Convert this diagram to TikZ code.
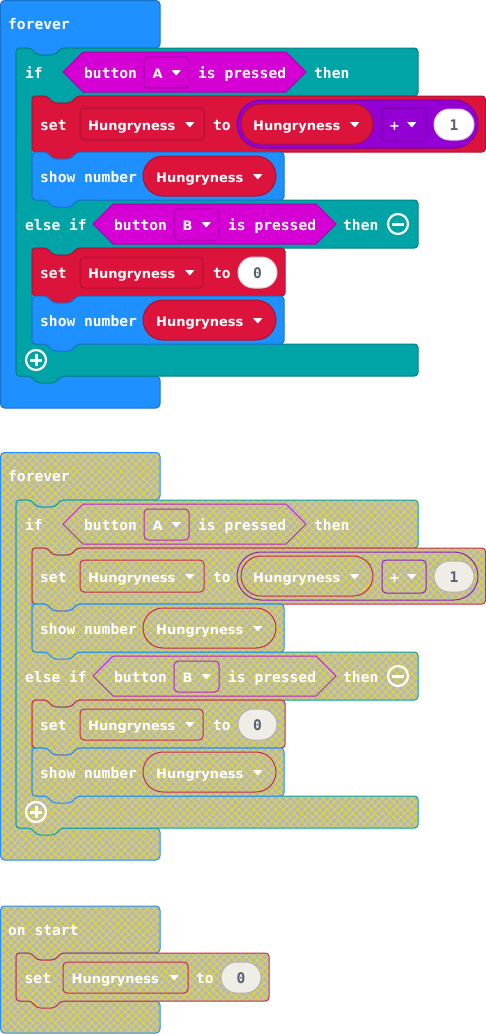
\documentclass[tikz,border=0pt]{standalone}
\usepackage{fontspec}
\usetikzlibrary{patterns.meta}

\newfontfamily\monofam{DejaVu Sans Mono}
\newfontfamily\varfam{DejaVu Sans}
\newcommand{\kwfont}{\monofam\bfseries\fontsize{14.6}{16}\selectfont}
\newcommand{\varfont}{\varfam\bfseries\fontsize{13}{15}\selectfont}

\definecolor{cBlue}{HTML}{1E90FF}
\definecolor{cBlueD}{HTML}{1873CC}
\definecolor{cTeal}{HTML}{00A4A6}
\definecolor{cTealD}{HTML}{008385}
\definecolor{cRed}{HTML}{DC143C}
\definecolor{cRedD}{HTML}{B01030}
\definecolor{cMag}{HTML}{D400D4}
\definecolor{cMagD}{HTML}{AA00AA}
\definecolor{cPur}{HTML}{9400D3}
\definecolor{cPurD}{HTML}{7600A9}
\definecolor{cNum}{HTML}{575E75}
\definecolor{cFieldD}{HTML}{D0D0D0}
\definecolor{dGray}{HTML}{B6B6B6}
\definecolor{dYel}{HTML}{DDD640}
\definecolor{dField}{HTML}{EFEDE5}

\tikzset{
  blue blk/.style={fill=cBlue, draw=cBlueD},
  teal blk/.style={fill=cTeal, draw=cTealD},
  red blk/.style={fill=cRed, draw=cRedD},
  mag blk/.style={fill=cMag, draw=cMagD},
  pur blk/.style={fill=cPur, draw=cPurD},
  field/.style={fill=white, draw=cFieldD},
  dis/.style={draw=#1,
    preaction={fill=dGray},
    preaction={pattern={Hatch[angle=45,distance=5.2pt,line width=1pt]}, pattern color=dYel}},
  kw/.style={font=\kwfont, text=white, anchor=base west, inner sep=0pt},
  var/.style={font=\varfont, text=white, anchor=base west, inner sep=0pt},
  num/.style={font=\kwfont, text=cNum, anchor=base, inner sep=0pt},
  icon/.style={circle, draw=white, line width=2.2pt, minimum size=20pt, inner sep=0pt},
}

% statement block: style, left, top, right, bottom (notch on top, tab below)
\newcommand{\stmt}[5]{%
  \draw[#1, line width=1pt, rounded corners=3.5pt]
    (#2,#3) -- ({#2+15},#3) -- ({#2+21},{#3+7}) -- ({#2+39},{#3+7}) -- ({#2+45},#3)
    -- (#4,#3) -- (#4,#5) -- ({#2+45},#5) -- ({#2+39},{#5+7}) -- ({#2+21},{#5+7})
    -- ({#2+15},#5) -- (#2,#5) -- cycle;}

% dropdown arrow, given its top left corner
\newcommand{\ddtri}[2]{%
  \fill[white, rounded corners=0.6pt] (#1,#2) -- ({#1+9.5},#2) -- ({#1+4.75},{#2+5.5}) -- cycle;}

% the forever loop with its if / else if
\newcommand{\mainprog}[1]{%
  % forever
  \draw[blue blk, line width=1pt, rounded corners=4pt]
    (0.5,0.5) -- (160,0.5) -- (160,48) -- (61,48) -- (55,55) -- (37,55) -- (31,48)
    -- (16,48) -- (16,376) -- (160,376) -- (160,408) -- (0.5,408) -- cycle;
  \node[kw] (#1-forever) at (8,29) {forever};
  % if / else if
  \draw[teal blk, line width=1pt, rounded corners=3.5pt]
    (16,48) -- (31,48) -- (37,55) -- (55,55) -- (61,48) -- (418,48) -- (418,96)
    -- (77,96) -- (71,103) -- (53,103) -- (47,96) -- (32,96) -- (32,200)
    -- (418,200) -- (418,248) -- (77,248) -- (71,255) -- (53,255) -- (47,248)
    -- (32,248) -- (32,344) -- (418,344) -- (418,376) -- (61,376) -- (55,383)
    -- (37,383) -- (31,376) -- (16,376) -- cycle;
  \node[kw] (#1-if) at (25,78) {if};
  \draw[mag blk, line width=1pt] (63,72) -- (83,52) -- (286,52) -- (306,72) -- (286,92) -- (83,92) -- cycle;
  \node[kw] (#1-btnA) at (84,78) {button};
  \draw[mag blk, line width=1pt, rounded corners=4pt] (144,57) rectangle (189,88);
  \node[var] (#1-A) at (152.5,78) {A};
  \ddtri{171.5}{70}
  \node[kw] (#1-pressA) at (198,78) {is pressed};
  \node[kw] (#1-thenA) at (314,78) {then};
  % set Hungryness to Hungryness + 1
  \stmt{red blk}{32}{96}{485.5}{152}
  \node[kw] (#1-set1) at (40,130) {set};
  \draw[red blk, line width=1pt, rounded corners=4pt] (80,108) rectangle (204,140);
  \node[var] (#1-var1) at (88,130) {Hungryness};
  \ddtri{185}{122}
  \node[kw] (#1-to1) at (213,130) {to};
  \draw[pur blk, line width=1pt, rounded corners=24pt] (237,100) rectangle (478,148);
  \draw[red blk, line width=1pt, rounded corners=20pt] (241,104) rectangle (373,144);
  \node[var] (#1-var2) at (253,130) {Hungryness};
  \ddtri{350}{122}
  \draw[pur blk, line width=1pt, rounded corners=4pt] (382,108) rectangle (426,141);
  \node[var] (#1-plus) at (389,130) {+};
  \ddtri{407}{122}
  \draw[field, line width=1pt, rounded corners=15.5pt] (434,109) rectangle (474,140);
  \node[num] (#1-one) at (454,130) {1};
  % show number
  \stmt{blue blk}{32}{152}{284}{200}
  \node[kw] (#1-show1) at (40,182) {show number};
  \draw[red blk, line width=1pt, rounded corners=20pt] (143,156) rectangle (276,196);
  \node[var] (#1-var3) at (156,182) {Hungryness};
  \ddtri{253}{174}
  % else if
  \node[kw] (#1-elseif) at (25,230) {else if};
  \draw[mag blk, line width=1pt] (93,224) -- (113,204) -- (316,204) -- (336,224) -- (316,244) -- (113,244) -- cycle;
  \node[kw] (#1-btnB) at (114,230) {button};
  \draw[mag blk, line width=1pt, rounded corners=4pt] (174,209) rectangle (219,240);
  \node[var] (#1-B) at (182.5,230) {B};
  \ddtri{201.5}{222}
  \node[kw] (#1-pressB) at (228,230) {is pressed};
  \node[kw] (#1-thenB) at (343,230) {then};
  \node[icon] (#1-minus) at (398,224) {};
  \draw[white, line width=3pt] (392,224) -- (404,224);
  % set Hungryness to 0
  \stmt{red blk}{32}{248}{285}{296}
  \node[kw] (#1-set2) at (40,278) {set};
  \draw[red blk, line width=1pt, rounded corners=4pt] (80,257) rectangle (203,288);
  \node[var] (#1-var4) at (88,278) {Hungryness};
  \ddtri{185}{270}
  \node[kw] (#1-to2) at (213,278) {to};
  \draw[field, line width=1pt, rounded corners=15.5pt] (238,257) rectangle (277,288);
  \node[num] (#1-zero) at (257.5,278) {0};
  % show number
  \stmt{blue blk}{32}{296}{284}{344}
  \node[kw] (#1-show2) at (40,326) {show number};
  \draw[red blk, line width=1pt, rounded corners=20pt] (143,300) rectangle (276,340);
  \node[var] (#1-var5) at (156,326) {Hungryness};
  \ddtri{253}{318}
  % add branch
  \node[icon] (#1-add) at (36,360) {};
  \draw[white, line width=3pt] (30,360) -- (42,360) (36,354) -- (36,366);
}

\begin{document}
\begin{tikzpicture}[x=1pt, y=-1pt]
\useasboundingbox (0,0) rectangle (486,1034);

% active program
\mainprog{a}

% disabled copies
\begin{scope}[blue blk/.style={dis=cBlue}, teal blk/.style={dis=cTeal},
  red blk/.style={dis=cRed!80!gray}, mag blk/.style={dis=cMag!75!gray},
  pur blk/.style={dis=cPur!75!gray}, field/.style={fill=dField, draw=black!30}]
  \begin{scope}[shift={(0,452)}]
    \mainprog{d}
  \end{scope}
  % on start
  \draw[blue blk, line width=1pt, rounded corners=4pt]
    (0.5,906) -- (160,906) -- (160,953) -- (61,953) -- (55,960) -- (37,960) -- (31,953)
    -- (16,953) -- (16,1001) -- (160,1001) -- (160,1033) -- (0.5,1033) -- cycle;
  \node[kw] (onstart) at (8,935.5) {on start};
  \stmt{red blk}{16}{953}{269}{1001}
  \node[kw] (s-set) at (24.5,983) {set};
  \draw[red blk, line width=1pt, rounded corners=4pt] (63,962) rectangle (188,993);
  \node[var] (s-var) at (71.5,983) {Hungryness};
  \ddtri{169.5}{975}
  \node[kw] (s-to) at (196,983) {to};
  \draw[field, line width=1pt, rounded corners=15.5pt] (221,962) rectangle (261,993);
  \node[num] (s-zero) at (241,983) {0};
\end{scope}
\end{tikzpicture}
\end{document}
